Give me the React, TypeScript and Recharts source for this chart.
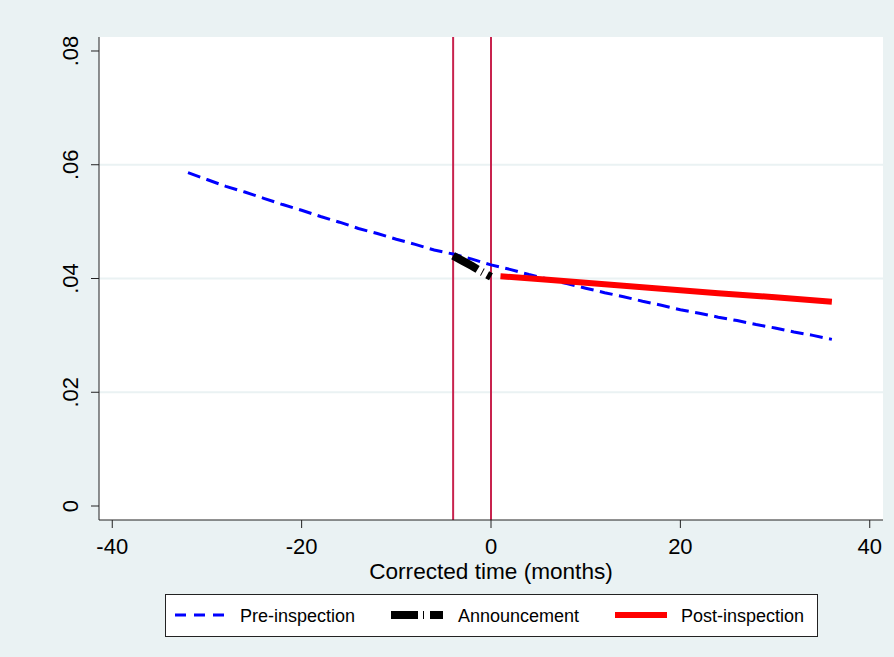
import React from 'react';
import { LineChart, Line, XAxis, YAxis, ReferenceLine, CartesianGrid, Label } from 'recharts';

// ---- data ----
const preMonths = [-32, -30, -28, -26, -24, -22, -20, -18, -16, -14, -12, -10, -8, -6, -4, -2, 0, 2, 4, 6, 8, 10, 12, 14, 16, 18, 20, 22, 24, 26, 28, 30, 32, 34, 36];
const preValues = [0.0586, 0.0574, 0.0562, 0.0552, 0.0541, 0.0530, 0.0520, 0.0509, 0.0499, 0.0488, 0.0479, 0.0469, 0.0460, 0.0450, 0.0443, 0.0434, 0.0424, 0.0416, 0.0407, 0.0399, 0.0391, 0.0383, 0.0375, 0.0368, 0.0360, 0.0353, 0.0345, 0.0339, 0.0332, 0.0326, 0.0319, 0.0313, 0.0306, 0.0300, 0.0293];

const annMonths = [-4, -3, -2, -1, 0];
const annValues = [0.0440, 0.0431, 0.0422, 0.0412, 0.0403];

const postMonths = [1, 6, 12, 18, 24, 30, 36];
const postValues = [0.0404, 0.0398, 0.0390, 0.0382, 0.0374, 0.0367, 0.0359];

const eventLines = [-4, 0];

const xTicks = [-40, -20, 0, 20, 40];
const yTicks = [0, 0.02, 0.04, 0.06, 0.08];
const yTickLabels = ['0', '.02', '.04', '.06', '.08'];
const gridValues = [0.02, 0.04, 0.06];

const xTitle = 'Corrected time (months)';
const legendLabels = ['Pre-inspection', 'Announcement', 'Post-inspection'];

const pre = preMonths.map((x, i) => ({ x, y: preValues[i] }));
const ann = annMonths.map((x, i) => ({ x, y: annValues[i] }));
const post = postMonths.map((x, i) => ({ x, y: postValues[i] }));

const FONT = '"Liberation Sans", Arial, Helvetica, sans-serif';
const W = 894;
const H = 657;
const BG = '#eaf2f3';
const AXIS = '#222222';
const EVENT = '#c8234e';

function YTick(props: any) {
  const { x, y, payload } = props;
  const bx = x - 11;
  const idx = yTicks.indexOf(payload.value);
  return (
    <text
      x={bx}
      y={y}
      transform={`rotate(-90 ${bx} ${y})`}
      textAnchor="middle"
      fontSize={22}
      fontFamily={FONT}
      fill="#000"
    >
      {idx >= 0 ? yTickLabels[idx] : String(payload.value)}
    </text>
  );
}

function LegendBox() {
  const cy = 615;
  const ty = 621.5;
  return (
    <svg width={W} height={H} style={{ position: 'absolute', left: 0, top: 0, pointerEvents: 'none' }}>
      <rect x={165.5} y={594.5} width={652} height={42} fill="#ffffff" stroke={AXIS} strokeWidth={1} />
      <line x1={175} x2={227} y1={cy} y2={cy} stroke="#0000ff" strokeWidth={3} strokeDasharray="11 8" />
      <text x={240} y={ty} fontSize={18} fontFamily={FONT} fill="#000">{legendLabels[0]}</text>
      <line x1={391} x2={444} y1={cy} y2={cy} stroke="#000000" strokeWidth={8} strokeDasharray="27 5 1 6 13 40" />
      <text x={458} y={ty} fontSize={18} fontFamily={FONT} fill="#000">{legendLabels[1]}</text>
      <line x1={615} x2={667} y1={cy} y2={cy} stroke="#ff0000" strokeWidth={6} />
      <text x={681} y={ty} fontSize={18} fontFamily={FONT} fill="#000">{legendLabels[2]}</text>
    </svg>
  );
}

export default function App() {
  return (
    <div style={{ position: 'absolute', left: 0, top: 0, width: W, height: H, background: BG, fontFamily: FONT }}>
      <LineChart width={W} height={H} margin={{ top: 37, right: 11, left: 0, bottom: 0 }}>
        <CartesianGrid
          fill="#ffffff"
          vertical={false}
          horizontal={true}
          horizontalValues={gridValues}
          stroke={BG}
          strokeWidth={2}
        />
        <XAxis
          dataKey="x"
          type="number"
          domain={[-41.4, 41.4]}
          ticks={xTicks}
          allowDataOverflow
          height={137}
          tickSize={8}
          tickMargin={10}
          stroke={AXIS}
          tick={{ fontSize: 22, fontFamily: FONT, fill: '#000' }}
          tickLine={{ stroke: AXIS }}
          axisLine={{ stroke: AXIS }}
        >
          <Label value={xTitle} position="insideTop" offset={43} fontSize={22.6} fontFamily={FONT} fill="#000" />
        </XAxis>
        <YAxis
          type="number"
          domain={[-0.00246, 0.08246]}
          ticks={yTicks}
          allowDataOverflow
          width={99}
          tickSize={8}
          tickMargin={2}
          stroke={AXIS}
          tick={<YTick />}
          tickLine={{ stroke: AXIS }}
          axisLine={{ stroke: AXIS }}
        />
        {eventLines.map((v) => (
          <ReferenceLine key={v} x={v} stroke={EVENT} strokeWidth={2} />
        ))}
        <Line
          data={pre}
          dataKey="y"
          type="linear"
          stroke="#0000ff"
          strokeWidth={3}
          strokeDasharray="13 6.5"
          dot={false}
          activeDot={false}
          isAnimationActive={false}
        />
        <Line
          data={post}
          dataKey="y"
          type="linear"
          stroke="#ff0000"
          strokeWidth={6}
          dot={false}
          activeDot={false}
          isAnimationActive={false}
        />
        <Line
          data={ann}
          dataKey="y"
          type="linear"
          stroke="#000000"
          strokeWidth={8}
          strokeDasharray="28 5 1 5 12 5"
          dot={false}
          activeDot={false}
          isAnimationActive={false}
        />
      </LineChart>
      <LegendBox />
    </div>
  );
}
